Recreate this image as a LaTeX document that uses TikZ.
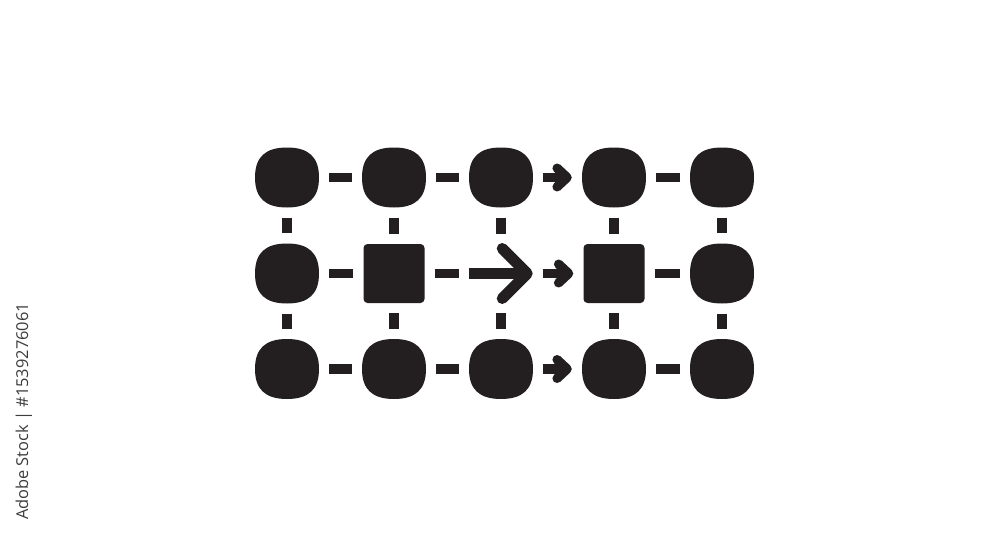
\documentclass[tikz,border=0pt]{standalone}
\usepackage{fontspec}
\setsansfont{Open Sans}
\usetikzlibrary{arrows.meta,calc}
\definecolor{ink}{RGB}{35,31,32}
\definecolor{tagink}{RGB}{60,60,60}

\begin{document}
\begin{tikzpicture}[x=0.3mm, y=-0.3mm,
  dot/.style={inner sep=0pt, minimum width=19.2mm, minimum height=18mm, path picture={
    \fill[ink] (path picture bounding box.east)
      .. controls ($(path picture bounding box.east)!0.68!(path picture bounding box.north east)$) and ($(path picture bounding box.north)!0.68!(path picture bounding box.north east)$) .. (path picture bounding box.north)
      .. controls ($(path picture bounding box.north)!0.68!(path picture bounding box.north west)$) and ($(path picture bounding box.west)!0.68!(path picture bounding box.north west)$) .. (path picture bounding box.west)
      .. controls ($(path picture bounding box.west)!0.68!(path picture bounding box.south west)$) and ($(path picture bounding box.south)!0.68!(path picture bounding box.south west)$) .. (path picture bounding box.south)
      .. controls ($(path picture bounding box.south)!0.68!(path picture bounding box.south east)$) and ($(path picture bounding box.east)!0.68!(path picture bounding box.south east)$) .. (path picture bounding box.east) -- cycle;}},
  sq/.style={fill=ink, inner sep=0pt, minimum width=18.3mm, minimum height=17.7mm, rounded corners=1.2mm},
  hole/.style={inner sep=0pt, minimum width=18.9mm, minimum height=17.7mm},
  bar/.style={draw=ink, line width=2.8mm, shorten <=3mm, shorten >=3mm},
  go/.style={draw=ink, line width=2.8mm, shorten <=3mm, shorten >=3mm, -{Straight Barb[round, length=3mm, width=5.6mm]}},
  bigarrow/.style={draw=ink, line width=3.3mm, -{Straight Barb[round, length=7.5mm, width=15mm]}}]
\useasboundingbox (0,0) rectangle (1000,545);
\node[dot] (a1) at (287,177.5) {};
\node[dot] (a2) at (394,177.5) {};
\node[dot] (a3) at (501,177.5) {};
\node[dot] (a4) at (614,177.5) {};
\node[dot] (a5) at (722,177.5) {};
\node[dot] (b1) at (287,273.5) {};
\node[sq] (b2) at (394,273.5) {};
\node[hole] (b3) at (501,273.5) {};
\node[sq] (b4) at (614,273.5) {};
\node[dot] (b5) at (722,273.5) {};
\node[dot] (c1) at (287,369) {};
\node[dot] (c2) at (394,369) {};
\node[dot] (c3) at (501,369) {};
\node[dot] (c4) at (614,369) {};
\node[dot] (c5) at (722,369) {};
\draw[bar] (a1) -- (a2);
\draw[bar] (a2) -- (a3);
\draw[go] (a3) -- (a4);
\draw[bar] (a4) -- (a5);
\draw[bar] (b1) -- (b2);
\draw[bar] (b2) -- (b3);
\draw[go] (b3) -- (b4);
\draw[bar] (b4) -- (b5);
\draw[bar] (c1) -- (c2);
\draw[bar] (c2) -- (c3);
\draw[go] (c3) -- (c4);
\draw[bar] (c4) -- (c5);
\draw[bar] (a1) -- (b1);
\draw[bar] (a2) -- (b2);
\draw[bar] (a3) -- (b3);
\draw[bar] (a4) -- (b4);
\draw[bar] (a5) -- (b5);
\draw[bar] (b1) -- (c1);
\draw[bar] (b2) -- (c2);
\draw[bar] (b3) -- (c3);
\draw[bar] (b4) -- (c4);
\draw[bar] (b5) -- (c5);
\draw[bigarrow] (b3.west) -- (b3.east);
\node[rotate=90, text=tagink, font=\sffamily\fontsize{14}{14}\selectfont] (tag) at (24,411.5) {Adobe Stock | \#1539276061};
\end{tikzpicture}
\end{document}
